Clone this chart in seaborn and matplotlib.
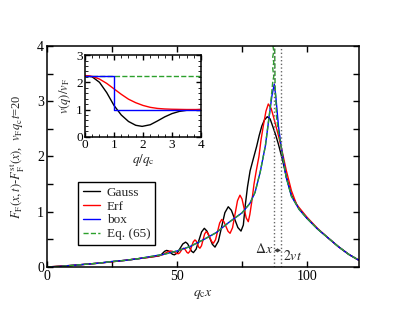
import numpy as np
import pandas as pd
import seaborn as sns
import matplotlib
matplotlib.use('Agg')
import matplotlib.pyplot as plt
from matplotlib.ticker import MultipleLocator, FuncFormatter

# ---- main panel data ----
base_x = [0, 5, 10, 15, 20, 25, 30, 35, 40, 45, 50, 55, 60, 65, 70, 75, 78, 80, 82, 84,
          85.5, 86.5, 87.4, 88, 89, 90, 91, 92, 94, 97, 100, 104, 108, 112, 116, 120]
base_y = [0.0, 0.01, 0.03, 0.05, 0.07, 0.10, 0.12, 0.15, 0.19, 0.23, 0.29, 0.37, 0.49, 0.62,
          0.81, 0.98, 1.15, 1.35, 1.72, 2.2, 2.75, 3.1, 3.31, 3.08, 2.55, 2.2, 1.9, 1.62,
          1.28, 1.04, 0.88, 0.69, 0.53, 0.37, 0.23, 0.12]

gauss_x = [0, 10, 20, 30, 35, 40, 43, 43.75, 44.5, 45.25, 46, 46.75, 47.5, 48.25, 49, 50.1,
           51.15, 52.2, 53.3, 54.05, 54.8, 55.55, 56.3, 57.35, 58.4, 59.45, 60.5, 61.5,
           62.55, 63.6, 64.6, 65.9, 67.15, 68.4, 69.7, 70.9, 72.15, 73.4, 74.6, 75.5, 76.2,
           77.1, 78.1, 79.4, 80.6, 81.6, 82.6, 83.6, 84.7, 85.8, 87, 88, 89, 90.5, 92, 94,
           97, 100, 104, 108, 112, 116, 120]
gauss_y = [0.0, 0.03, 0.07, 0.12, 0.15, 0.18, 0.20, 0.215, 0.25, 0.285, 0.30, 0.29, 0.26,
           0.23, 0.22, 0.254, 0.335, 0.416, 0.45, 0.422, 0.355, 0.288, 0.26, 0.324, 0.48,
           0.636, 0.70, 0.65, 0.53, 0.41, 0.36, 0.467, 0.725, 0.983, 1.09, 1.026, 0.87,
           0.714, 0.65, 0.76, 1.10, 1.45, 1.74, 1.97, 2.18, 2.38, 2.55, 2.66, 2.72, 2.68,
           2.52, 2.38, 2.22, 1.95, 1.64, 1.30, 1.05, 0.88, 0.69, 0.53, 0.37, 0.23, 0.12]

erf_x = [0, 10, 20, 30, 35, 40, 43.5, 44.5, 45.5, 46.5, 47.5, 48.25, 49, 49.75, 50.5, 51,
         51.5, 52, 52.5, 52.95, 53.4, 53.85, 54.3, 54.95, 55.6, 56.25, 56.9, 57.4, 57.85,
         58.3, 58.8, 59.4, 60, 60.6, 61.2, 61.9, 62.6, 63.3, 64, 64.8, 65.6, 66.4, 67.2, 68,
         68.8, 69.6, 70.4, 71.35, 72.3, 73.25, 74.2, 75, 75.8, 76.6, 77.4, 78, 78.8, 79.6,
         80.5, 81.5, 82.3, 83.2, 84.2, 85.1, 86.2, 87.2, 88.2, 89.2, 90.3, 92, 94, 96, 100,
         104, 108, 112, 116, 120]
erf_y = [0.0, 0.03, 0.07, 0.12, 0.15, 0.18, 0.21, 0.222, 0.25, 0.278, 0.29, 0.283, 0.265,
         0.247, 0.24, 0.255, 0.29, 0.325, 0.34, 0.327, 0.295, 0.263, 0.25, 0.285, 0.37,
         0.455, 0.49, 0.468, 0.415, 0.362, 0.34, 0.384, 0.49, 0.596, 0.64, 0.609, 0.535,
         0.461, 0.43, 0.493, 0.645, 0.797, 0.86, 0.823, 0.735, 0.647, 0.61, 0.711, 0.955,
         1.199, 1.30, 1.23, 1.06, 0.89, 0.82, 0.95, 1.20, 1.50, 1.75, 2.0, 2.3, 2.56, 2.82,
         2.95, 2.87, 2.70, 2.52, 2.34, 2.12, 1.75, 1.38, 1.13, 0.90, 0.70, 0.53, 0.37, 0.23,
         0.12]

eq65_x = [0, 5, 10, 15, 20, 25, 30, 35, 40, 45, 50, 55, 60, 65, 70, 75, 78, 80, 82, 84,
          85.5, 86.3, 86.8, 87.2, 86.8, 87.2, 86.8, 87.2, 86.9, 87.2, 87.5, 87.7, 88.3, 89,
          90, 91, 92, 94, 97, 100, 104, 108, 112, 116, 120]
eq65_y = [0.0, 0.01, 0.03, 0.05, 0.07, 0.10, 0.12, 0.15, 0.19, 0.23, 0.29, 0.37, 0.49, 0.62,
          0.81, 0.98, 1.15, 1.35, 1.72, 2.2, 2.75, 3.1, 3.35, 3.45, 3.6, 3.7, 3.8, 3.9, 4.0,
          4.1, 4.2, 3.3, 2.7, 2.45, 2.2, 1.9, 1.62, 1.28, 1.04, 0.88, 0.69, 0.53, 0.37, 0.23,
          0.12]

dx_line = 87.3      # left dotted marker
vt2_line = 90.0     # 2vt

# ---- inset data ----
q_gauss = [0, 0.25, 0.5, 0.75, 1.0, 1.25, 1.5, 1.75, 1.97, 2.25, 2.5, 2.75, 3.0, 3.25, 3.5, 3.75, 4.0]
v_gauss = [2.25, 2.2, 2.0, 1.62, 1.15, 0.8, 0.56, 0.42, 0.38, 0.44, 0.58, 0.73, 0.85, 0.93, 0.97, 0.99, 1.0]
q_erf = [0, 0.25, 0.5, 0.75, 1.0, 1.25, 1.5, 1.75, 2.0, 2.25, 2.5, 2.75, 3.0, 3.5, 4.0]
v_erf = [2.25, 2.22, 2.12, 1.96, 1.76, 1.56, 1.38, 1.25, 1.15, 1.08, 1.04, 1.02, 1.01, 1.0, 1.0]
q_box = [0, 1, 1, 4]
v_box = [2.25, 2.25, 1.0, 1.0]
q_eq65 = [0, 4]
v_eq65 = [2.25, 2.25]

sns.set_style('ticks')
plt.rcParams['font.family'] = 'serif'
plt.rcParams['font.serif'] = ['Liberation Serif', 'DejaVu Serif']
plt.rcParams['mathtext.fontset'] = 'stix'
plt.rcParams['font.size'] = 9.5
for a in ('xtick', 'ytick'):
    plt.rcParams[a + '.direction'] = 'in'
    plt.rcParams[a + '.major.size'] = 4
    plt.rcParams[a + '.minor.size'] = 2.5
    plt.rcParams[a + '.major.width'] = 1
    plt.rcParams[a + '.color'] = 'black'
    plt.rcParams[a + '.labelsize'] = 10
plt.rcParams['xtick.top'] = True
plt.rcParams['ytick.right'] = True
plt.rcParams['axes.linewidth'] = 1.1
plt.rcParams['axes.edgecolor'] = 'black'

fig = plt.figure(figsize=(4.07, 3.15), dpi=100)
ax = fig.add_axes([0.1155, 0.1524, 0.7667, 0.7016])

green = '#2ca02c'
lw = 1.0
sns.lineplot(x=gauss_x, y=gauss_y, ax=ax, color='black', lw=lw, sort=False, estimator=None, label='Gauss')
sns.lineplot(x=erf_x, y=erf_y, ax=ax, color='red', lw=lw, sort=False, estimator=None, label='Erf')
sns.lineplot(x=base_x, y=base_y, ax=ax, color='blue', lw=lw, sort=False, estimator=None, label='box')
sns.lineplot(x=eq65_x, y=eq65_y, ax=ax, color=green, lw=lw, ls='--', sort=False, estimator=None, label='Eq. (65)')

ax.axvline(dx_line, color='#666666', ls=':', lw=1)
ax.axvline(vt2_line, color='#666666', ls=':', lw=1)
ax.annotate('', xy=(dx_line, 0.3), xytext=(vt2_line, 0.3),
            arrowprops=dict(arrowstyle='<->', lw=0.7, color='#333333', shrinkA=0, shrinkB=0,
                            mutation_scale=5))
ax.text(86.8, 0.32, r'$\Delta x$', ha='right', va='center', fontsize=10)
ax.text(90.8, 0.2, r'$2vt$', ha='left', va='center', fontsize=10)

ax.set_xlim(0, 120)
ax.set_ylim(0, 4)
ax.xaxis.set_major_locator(MultipleLocator(25))
ax.xaxis.set_major_formatter(FuncFormatter(lambda v, p: '%d' % v if v % 50 == 0 else ''))
ax.yaxis.set_major_locator(MultipleLocator(0.5))
ax.yaxis.set_major_formatter(FuncFormatter(lambda v, p: '%d' % v if v % 1 == 0 else ''))
ax.tick_params(pad=2)
ax.set_xlabel(r'$q_{\rm c}x$', fontsize=10, labelpad=4)
ax.set_ylabel(r'$F_{\rm F}(x,t)$-$F_{\rm F}^{\rm st}(x)$,  $v_{\rm F}q_{\rm c}t$=20', fontsize=9, labelpad=8)

leg = ax.legend(loc='upper left', bbox_to_anchor=(0.1, 0.385), borderaxespad=0,
                fancybox=False, edgecolor='black', framealpha=1, handlelength=1.3,
                handletextpad=0.5, borderpad=0.35, labelspacing=0.12, fontsize=9.5)
leg.get_frame().set_linewidth(1.0)

# ---- inset ----
ins = fig.add_axes([0.2088, 0.566, 0.2851, 0.259])
sns.lineplot(x=q_eq65, y=v_eq65, ax=ins, color=green, lw=lw, ls='--', estimator=None)
sns.lineplot(x=q_gauss, y=v_gauss, ax=ins, color='black', lw=lw, estimator=None)
sns.lineplot(x=q_erf, y=v_erf, ax=ins, color='red', lw=lw, estimator=None)
sns.lineplot(x=q_box, y=v_box, ax=ins, color='blue', lw=lw, sort=False, estimator=None)
ins.set_xlim(0, 4)
ins.set_ylim(0, 3)
ins.xaxis.set_major_locator(MultipleLocator(1))
ins.xaxis.set_minor_locator(MultipleLocator(0.25))
ins.yaxis.set_major_locator(MultipleLocator(1))
ins.yaxis.set_minor_locator(MultipleLocator(0.2))
ins.tick_params(which='major', length=3.5, pad=1.5, labelsize=9.5)
ins.tick_params(which='minor', length=2)
ins.set_xlabel(r'$q/q_{\rm c}$', fontsize=9.5, labelpad=1)
ins.set_ylabel(r'$v(q)/v_{\rm F}$', fontsize=9, labelpad=2)

fig.savefig('out.png', dpi=100)
